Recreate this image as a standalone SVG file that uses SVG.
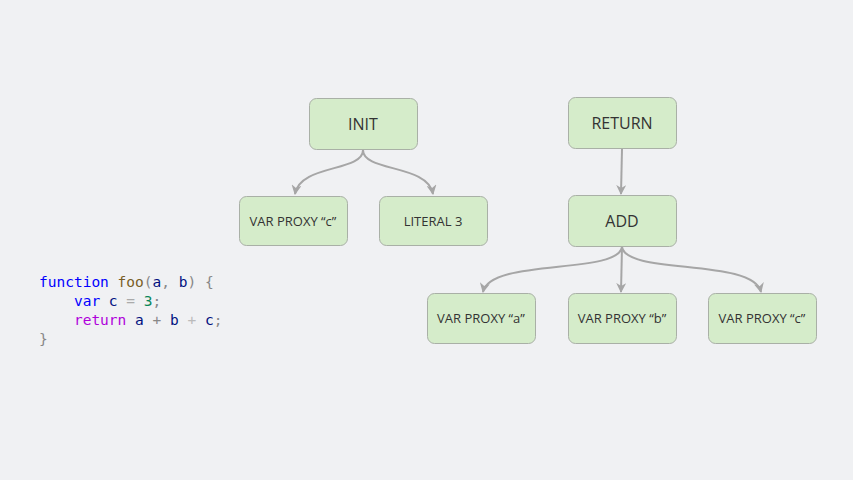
<svg xmlns="http://www.w3.org/2000/svg" width="853" height="480" viewBox="0 0 853 480">
<style>
.n rect{fill:#d5ecca;stroke:#a9b0a6;stroke-width:1}
.n text{font-family:"Open Sans","Liberation Sans",sans-serif;fill:#333;text-anchor:middle;dominant-baseline:central}
.big{font-size:16px}
.sm{font-size:13px}
.c path{fill:none;stroke:#a6a6a6;stroke-width:2}
.code{font-family:"DejaVu Sans Mono","Liberation Mono",monospace;font-size:14.5px}
</style>
<defs>
<marker id="ah" viewBox="0 0 10 10" refX="9" refY="5" markerWidth="5" markerHeight="5" orient="auto" markerUnits="strokeWidth">
<path d="M0,0 L10,5 L0,10 L3,5 Z" fill="#a6a6a6"/>
</marker>
</defs>
<rect width="853" height="480" fill="#f0f1f3"/>
<g class="c">
<path d="M363,150 C363,172 300,164 295,194" marker-end="url(#ah)"/>
<path d="M363,150 C363,172 428,164 433,194" marker-end="url(#ah)"/>
<path d="M622,149 L621,194" marker-end="url(#ah)"/>
<path d="M622,247 C618,275 490,258 483,292" marker-end="url(#ah)"/>
<path d="M622,247 L621,292" marker-end="url(#ah)"/>
<path d="M622,247 C626,275 753,258 761,292" marker-end="url(#ah)"/>
</g>
<g id="init" class="n"><rect x="309.5" y="98.5" width="108" height="51" rx="7"/><text x="363" y="124" class="big">INIT</text></g>
<g id="varc1" class="n"><rect x="239.5" y="196.5" width="108" height="49" rx="7"/><text x="293" y="221" class="sm">VAR PROXY “c”</text></g>
<g id="lit3" class="n"><rect x="379.5" y="196.5" width="108" height="49" rx="7"/><text x="433" y="221" class="sm">LITERAL 3</text></g>
<g id="return" class="n"><rect x="568.5" y="97.5" width="108" height="51" rx="7"/><text x="622" y="123" class="big">RETURN</text></g>
<g id="add" class="n"><rect x="568.5" y="195.5" width="108" height="51" rx="7"/><text x="622" y="221" class="big">ADD</text></g>
<g id="vara" class="n"><rect x="427.5" y="293.5" width="108" height="50" rx="7"/><text x="481" y="318" class="sm">VAR PROXY “a”</text></g>
<g id="varb" class="n"><rect x="568.5" y="293.5" width="108" height="50" rx="7"/><text x="622" y="318" class="sm">VAR PROXY “b”</text></g>
<g id="varc2" class="n"><rect x="708.5" y="293.5" width="108" height="50" rx="7"/><text x="762" y="318" class="sm">VAR PROXY “c”</text></g>
<g id="code" class="code">
<text x="39" y="287" xml:space="preserve"><tspan fill="#0000ff">function</tspan> <tspan fill="#795e26">foo</tspan><tspan fill="#888">(</tspan><tspan fill="#001080">a</tspan><tspan fill="#888">,</tspan> <tspan fill="#001080">b</tspan><tspan fill="#888">)</tspan> <tspan fill="#888">{</tspan></text>
<text x="39" y="306" xml:space="preserve">    <tspan fill="#0000ff">var</tspan> <tspan fill="#001080">c</tspan> <tspan fill="#aaa">=</tspan> <tspan fill="#098658">3</tspan><tspan fill="#888">;</tspan></text>
<text x="39" y="325" xml:space="preserve">    <tspan fill="#af00db">return</tspan> <tspan fill="#001080">a</tspan> <tspan fill="#888">+</tspan> <tspan fill="#001080">b</tspan> <tspan fill="#bbb">+</tspan> <tspan fill="#001080">c</tspan><tspan fill="#888">;</tspan></text>
<text x="39" y="344" xml:space="preserve"><tspan fill="#888">}</tspan></text>
</g>
</svg>
